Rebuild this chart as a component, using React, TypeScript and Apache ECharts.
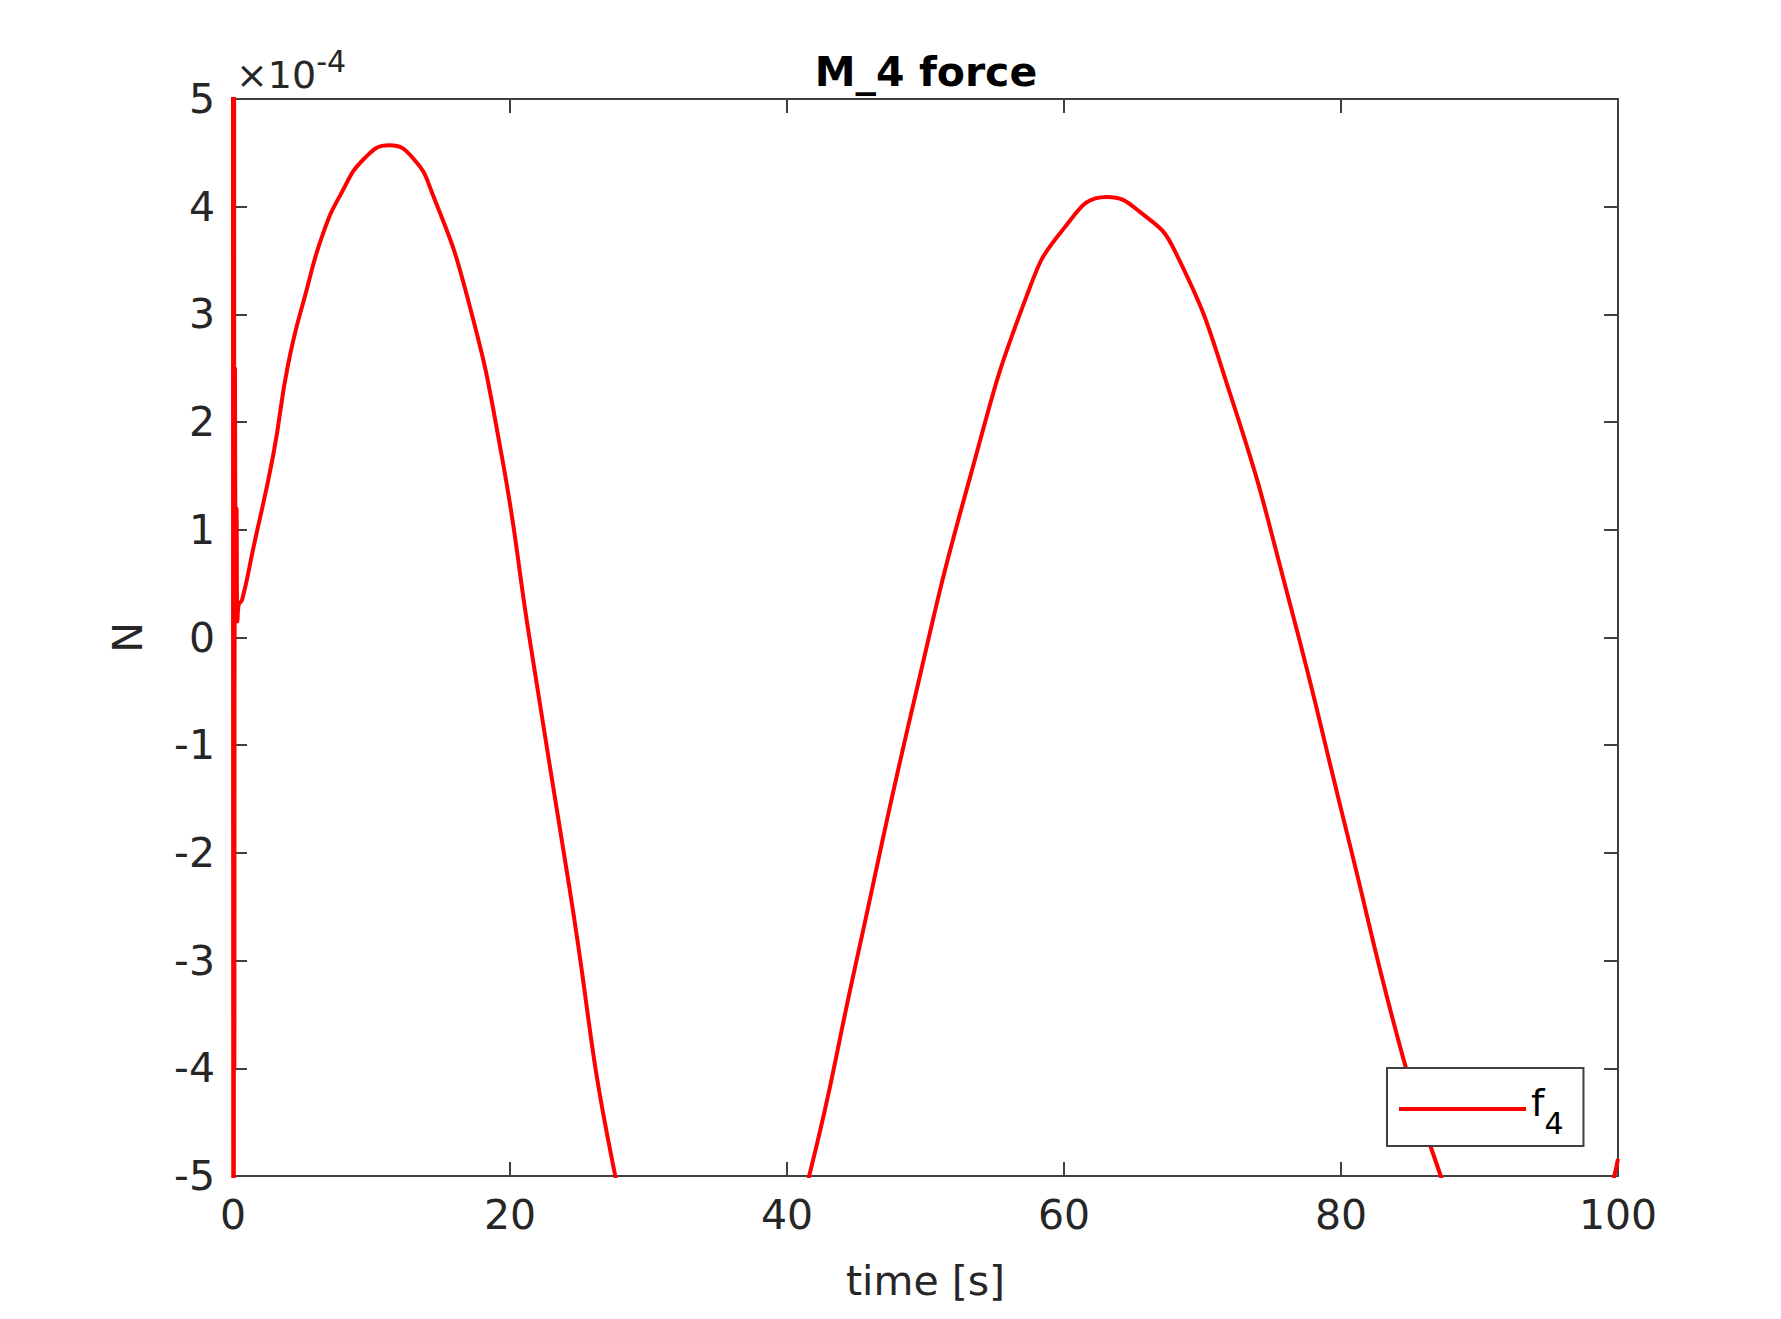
import * as echarts from "echarts";
import { useEffect, useRef } from "react";

// time [s] and force in units of 1e-4 N
const TIME = [
  0, 0.02, 0.04, 0.06, 0.08, 0.1, 0.14, 0.2, 0.25, 0.32, 0.4, 0.66, 1.5, 2.9, 4.0, 5.3, 6.5, 7.8, 9.5, 11.3,
  13.0, 14.4, 16.9, 19.4, 21.4, 24.3, 27.6, 31.0, 34.7, 38.0, 41.6, 44.9, 49.1, 53.2, 57.3, 60.0,
  63.1, 65.5, 68.0, 72.1, 76.3, 80.4, 84.5, 87.2, 90.0, 93.5, 97.0, 100,
];
const FORCE = [
  6, -6, 6, -6, 5.5, -4, 2.5, 0.8, 1.2, 0.15, 0.3, 0.35, 0.85, 1.69, 2.55, 3.22, 3.75, 4.12, 4.45, 4.57,
  4.45, 4.12, 3.17, 1.69, 0.0, -2.33, -5.0, -6.6, -7.0, -6.6, -5.0, -3.07, -0.63, 1.48, 3.17, 3.8,
  4.09, 3.95, 3.59, 2.22, 0.32, -1.8, -3.91, -5.0, -6.0, -6.5, -6.0, -4.84,
];

const INK = "#262626";
const AXIS = "#404040";
const FONT = "DejaVu Sans";

export default function App() {
  const ref = useRef<HTMLDivElement>(null);

  useEffect(() => {
    document.body.style.margin = "0";
    const el = ref.current;
    if (!el) return;
    const chart = echarts.init(el, null, { renderer: "svg" });
    const tickAxis = {
      axisLine: { show: true, onZero: false, lineStyle: { color: AXIS, width: 2 } },
      axisTick: { show: true, inside: true, length: 14, lineStyle: { color: AXIS, width: 2 } },
      splitLine: { show: false },
    };
    chart.setOption({
      animation: false,
      textStyle: { fontFamily: FONT },
      title: {
        text: "M_4 force",
        left: 921,
        top: 46,
        textAlign: "center",
        textStyle: { fontFamily: FONT, fontWeight: "bold", fontSize: 41, color: "#000" },
      },
      grid: { left: 233, right: 163, top: 99, bottom: 143 },
      xAxis: [
        {
          type: "value", min: 0, max: 100, interval: 20, position: "bottom",
          name: "time [s]", nameLocation: "middle", nameGap: 84,
          nameTextStyle: { fontFamily: FONT, fontSize: 41, color: INK },
          axisLabel: { color: INK, fontSize: 41, fontFamily: FONT, margin: 18 },
          ...tickAxis,
        },
        { type: "value", min: 0, max: 100, interval: 20, position: "top", axisLabel: { show: false }, ...tickAxis },
      ],
      yAxis: [
        {
          type: "value", min: -5, max: 5, interval: 1, position: "left",
          name: "N", nameLocation: "middle", nameGap: 85,
          nameTextStyle: { fontFamily: FONT, fontSize: 41, color: INK },
          axisLabel: { color: INK, fontSize: 41, fontFamily: FONT, margin: 18, formatter: (v: number) => String(v) },
          ...tickAxis,
        },
        { type: "value", min: -5, max: 5, interval: 1, position: "right", axisLabel: { show: false }, ...tickAxis },
      ],
      legend: {
        left: 1387, top: 1068, width: 200,
        padding: [16, 20, 8, 12],
        borderColor: AXIS, borderWidth: 2, backgroundColor: "#fff",
        icon: "rect", itemWidth: 127, itemHeight: 4, itemGap: 10,
        formatter: () => "{b|f}{s|4}",
        textStyle: {
          rich: {
            b: { fontFamily: FONT, fontSize: 38, color: "#000", verticalAlign: "bottom", padding: [0, 0, 12, 0] },
            s: { fontFamily: FONT, fontSize: 30, color: "#000", verticalAlign: "bottom", padding: [0, 0, -4, 0] },
          },
        },
      },
      graphic: [
        {
          type: "text", left: 236, top: 46,
          style: {
            text: "{x|×10}{e|-4}",
            rich: {
              x: { fontFamily: FONT, fontSize: 38, fill: INK, verticalAlign: "bottom" },
              e: { fontFamily: FONT, fontSize: 30, fill: INK, verticalAlign: "bottom", padding: [0, 0, 18, 0] },
            },
          },
        },
      ],
      series: [
        {
          name: "f4", type: "line", showSymbol: false, smooth: true, clip: true,
          lineStyle: { color: "#ff0000", width: 4 },
          itemStyle: { color: "#ff0000" },
          data: TIME.map((t, i) => [t, FORCE[i]]),
        },
      ],
    });
    return () => chart.dispose();
  }, []);

  return <div ref={ref} style={{ width: 1781, height: 1319 }} />;
}
